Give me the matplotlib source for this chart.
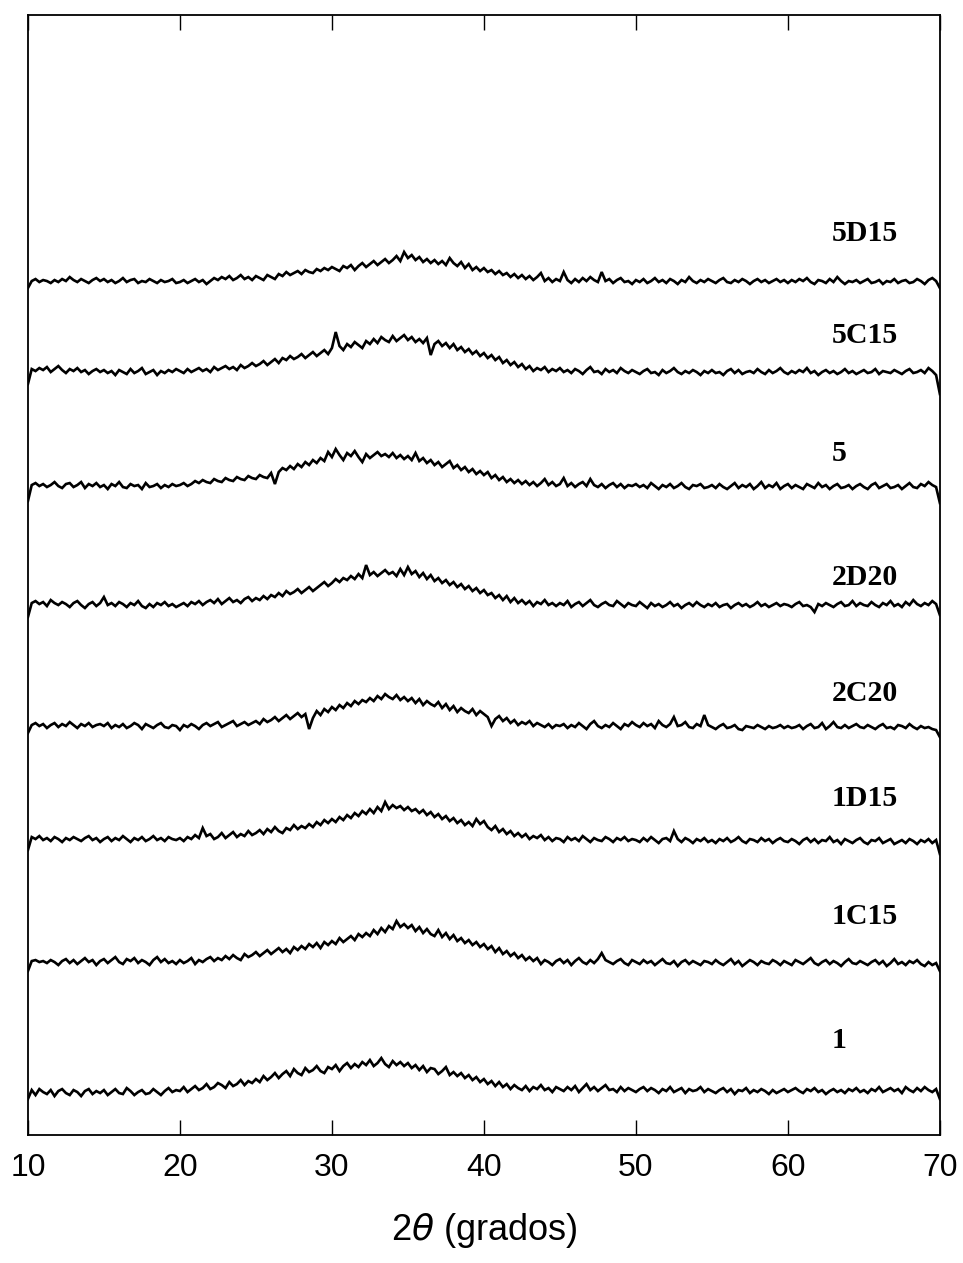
import numpy as np
import matplotlib

matplotlib.use("Agg")
import matplotlib.pyplot as plt

# intensity (a.u.) sampled every 0.25 deg from 10 to 70, one row = 5 deg
s_1 = [
    -6, 3, -2, 4, 1, -1, 3, -3, 2, 4, 0, -2, 3, 1, -3, 2, 4, -1, 2, 0,
    3, -2, 1, 4, 0, -1, 5, 2, -2, 1, 3, -1, 0, 4, 1, -2, 2, 5, 1, 3,
    2, 6, 1, 4, 7, 3, 5, 9, 4, 6, 10, 8, 5, 11, 7, 9, 13, 8, 12, 10,
    14, 11, 17, 13, 16, 20, 15, 19, 22, 17, 24, 20, 18, 25, 21, 23, 27, 22, 20, 26,
    24, 28, 22, 27, 30, 25, 29, 26, 31, 28, 33, 27, 30, 35, 29, 26, 32, 28, 31, 27,
    30, 25, 28, 23, 27, 21, 25, 24, 19, 22, 26, 18, 21, 17, 20, 15, 18, 13, 16, 11,
    14, 9, 12, 7, 11, 6, 9, 4, 8, 5, 3, 7, 2, 6, 4, 8, 3, 5, 1, 6,
    4, 2, 6, 3, 7, 1, 5, 9, 3, 6, 2, 5, 8, 3, 4, 1, 6, 2, 5, 3,
    1, 4, 6, 2, 5, 3, 0, 4, 2, 6, 1, 3, 5, 0, 4, 2, 3, 6, 1, 4,
    2, 0, 3, 5, 1, 4, -1, 3, 2, 5, 0, 3, 1, 4, 2, -1, 3, 0, 2, 4,
    1, 3, 5, 2, 0, 4, 2, 5, 1, 3, -1, 2, 4, 1, 3, 0, 4, 2, 5, 1,
    3, 0, 4, 2, 6, 1, 3, 5, 2, 4, 0, 6, 3, 1, 5, 2, 6, 3, 1, 4,
    -6,
]
s_1c15 = [
    -8, 2, 3, 1, 2, 0, 3, 1, -2, 2, 4, 0, 3, -1, 2, 5, 1, 3, -2, 2,
    4, 0, 3, 6, 1, -1, 4, 2, 5, 0, 3, 1, -2, 3, 6, 1, 4, 0, 2, -1,
    3, 0, 2, 5, -1, 3, 1, 4, 6, 2, 5, 3, 7, 4, 8, 5, 3, 9, 6, 8,
    11, 7, 10, 13, 9, 12, 15, 11, 14, 10, 16, 13, 17, 14, 19, 16, 20, 15, 21, 18,
    22, 19, 25, 21, 24, 27, 23, 29, 26, 30, 27, 33, 29, 35, 31, 37, 34, 42, 36, 39,
    35, 38, 32, 36, 30, 34, 29, 27, 33, 26, 30, 24, 28, 22, 25, 20, 23, 18, 21, 16,
    19, 14, 17, 11, 15, 9, 12, 7, 10, 5, 8, 3, 6, 2, 5, -1, 3, 1, -2, 2,
    4, 0, 3, -2, 2, 5, 1, -1, 3, 0, 4, 10, 3, 1, -1, 2, 4, 0, -2, 3,
    1, -1, 3, 0, 2, -2, 1, 4, 0, -1, 2, -3, 1, 3, -1, 2, 0, -2, 2, 1,
    -1, 3, 0, -2, 1, 4, -1, 2, -3, 0, 3, 1, -2, 2, 0, -1, 3, 1, -2, 2,
    0, -2, 3, 1, -1, 2, 5, 0, -2, 1, 3, -1, 2, 0, -3, 1, 4, 0, -1, 2,
    0, -2, 1, 3, -1, 2, -3, 0, 4, -1, 1, -2, 2, 0, 3, -1, -3, 1, -2, 0,
    -8,
]
s_1d15 = [
    -10, 3, 1, 4, 0, 2, -1, 3, 1, -2, 2, 0, 3, 1, -1, 2, 4, 0, 2, -2,
    1, 3, -1, 2, 0, 4, 1, -2, 2, 0, 3, -1, 1, 4, 0, 2, -1, 3, 1, 0,
    2, -1, 3, 1, 5, 2, 12, 4, 6, 1, 3, 7, 2, 5, 8, 3, 6, 4, 9, 5,
    7, 10, 6, 11, 8, 13, 9, 7, 12, 10, 15, 11, 14, 12, 16, 13, 18, 15, 20, 17,
    21, 18, 23, 20, 25, 22, 27, 24, 29, 26, 31, 27, 33, 29, 38, 31, 35, 32, 34, 30,
    33, 29, 31, 27, 30, 25, 28, 23, 26, 21, 24, 19, 22, 17, 20, 15, 18, 14, 21, 16,
    19, 13, 10, 14, 8, 11, 6, 9, 4, 7, 3, 6, 1, 4, 2, 5, 0, 3, -1, 2,
    1, -2, 3, 0, 2, -1, 4, 1, -2, 2, 0, -1, 3, 1, -2, 2, 0, 3, -1, 1,
    0, -2, 2, -1, 3, 0, -3, 1, 2, -1, 9, 1, -2, 2, 0, -3, 1, -1, 2, -2,
    0, -3, 1, -1, 2, -2, 0, 3, -1, -3, 1, 0, -2, 2, -1, 1, -3, 0, 2, -1,
    -2, 1, -1, -4, 0, 2, -2, 1, -3, 0, -1, 3, -2, 0, -4, 1, -1, -3, 0, 2,
    -2, -4, 0, -1, 2, -3, -1, 1, -4, -2, 0, -3, 1, -1, -4, 0, -2, 1, -3, 0,
    -14,
]
s_2c20 = [
    -6, 2, 4, 1, 3, -1, 2, 4, 0, 3, 1, 5, 2, -1, 3, 1, 4, 0, 2, 3,
    1, 4, -1, 2, 0, 3, -1, 1, 4, 2, -2, 3, 1, -1, 2, 4, 0, -1, 2, 1,
    -3, 2, 0, 3, 1, -2, 2, 4, 1, 3, 5, 0, 2, 4, 6, 1, 3, 5, 2, 4,
    6, 3, 8, 5, 7, 10, 6, 9, 12, 8, 11, 14, 10, 13, -2, 9, 16, 12, 18, 15,
    20, 17, 22, 19, 24, 21, 26, 23, 27, 25, 29, 26, 31, 28, 33, 30, 28, 32, 27, 30,
    26, 29, 24, 28, 22, 26, 23, 21, 25, 19, 23, 17, 21, 15, 19, 16, 14, 18, 12, 16,
    13, 10, 1, 8, 11, 6, 9, 4, 7, 2, 5, 3, 6, 1, 4, 2, 0, 3, -1, 2,
    1, 3, -1, 2, 0, 4, 1, -2, 3, 6, 1, -1, 2, 0, 4, 1, -2, 3, 1, 5,
    2, 0, 4, 1, 3, -1, 6, 2, 0, 3, 10, 1, 2, 5, 0, -1, 3, 1, 12, 2,
    0, -2, 1, 3, -1, 0, 2, -2, -3, 1, 0, -1, 2, 0, -2, 1, -1, 0, 2, -1,
    1, -1, 0, 2, -2, 1, 3, -1, 0, 4, -2, 1, 5, 0, -1, 2, -1, 1, 3, 0,
    -1, 2, 0, -2, 1, 3, -1, 0, -2, 2, 1, -1, 3, 0, -2, 1, -1, 0, -2, -3,
    -10,
]
s_2d20 = [
    -12, 2, 4, 1, 3, -1, 5, 2, 0, 3, 1, -2, 2, 4, 0, -3, 1, 3, -1, 2,
    8, 0, 2, -1, 3, 1, -2, 2, 0, 4, -1, -3, 1, -2, 2, 0, 3, -1, 1, -2,
    0, 2, -1, 3, 1, 4, 0, 3, 5, 2, 6, 1, 4, 7, 3, 5, 2, 6, 8, 4,
    7, 5, 9, 6, 10, 8, 12, 9, 14, 11, 13, 16, 12, 15, 18, 14, 17, 20, 23, 19,
    22, 26, 23, 27, 25, 29, 26, 31, 27, 40, 30, 33, 29, 32, 35, 31, 33, 29, 36, 30,
    38, 31, 34, 28, 32, 26, 30, 24, 27, 22, 25, 20, 23, 18, 21, 16, 19, 14, 17, 12,
    15, 10, 12, 7, 10, 5, 9, 3, 7, 2, 5, 1, 4, -1, 3, 1, 5, 0, 2, -1,
    2, 0, 4, -2, 1, 3, -1, 2, 5, 0, -2, 1, 3, 0, -1, 4, 1, -2, 2, 0,
    -1, 3, 0, -3, 2, -1, 1, -2, 0, 3, -1, 1, -3, 0, 2, -1, 3, 0, -2, 1,
    -1, 2, -2, 0, 1, -3, 0, 2, -1, 1, -2, 0, 3, -1, 1, -2, 0, 2, -1, 1,
    0, -2, 1, 3, -1, 0, -2, -7, 1, -1, 2, 0, -2, 1, 3, -1, 0, 4, -1, 2,
    0, -1, 3, 0, -2, 2, 0, 4, -1, 1, -2, 3, 0, 5, 1, -1, 2, 0, 4, 1,
    -10,
]
s_5 = [
    -14, 2, 4, 1, 3, 0, 2, 5, 1, -1, 3, 4, 0, 2, 5, -1, 3, 1, 4, 0,
    2, -2, 3, 1, 5, 0, -1, 3, 1, 2, -2, 4, 0, 1, 3, -1, 2, 0, 3, 1,
    2, 4, 1, 3, 6, 4, 7, 5, 4, 8, 6, 5, 9, 7, 6, 10, 8, 7, 11, 9,
    8, 12, 10, 9, 14, 3, 15, 19, 17, 21, 18, 23, 20, 25, 22, 27, 24, 29, 26, 35,
    30, 38, 32, 27, 34, 31, 36, 30, 25, 33, 29, 32, 35, 31, 33, 30, 34, 29, 32, 28,
    31, 27, 34, 26, 29, 24, 27, 22, 25, 20, 23, 26, 19, 22, 17, 20, 15, 18, 13, 16,
    12, 15, 9, 12, 7, 10, 5, 8, 4, 7, 3, 6, 2, 5, 1, 4, 8, 2, 5, 1,
    3, 9, 1, 4, 0, 3, 5, 1, 8, 2, 0, 3, -1, 2, 4, 0, 3, -1, 2, 1,
    3, 0, 2, -1, 4, 1, -2, 2, 0, 3, -1, 1, 4, 0, -2, 2, 1, 3, -1, 0,
    2, -1, 3, 0, -2, 1, 4, -1, 2, 0, 3, -2, 1, 5, -1, 2, 0, 4, -2, 1,
    3, -1, 2, 0, -2, 3, 1, -1, 4, 0, 2, -2, 1, 3, -1, 0, 2, -2, 1, 3,
    0, -2, 2, 4, -1, 1, 3, -1, 0, 2, -2, 1, 4, 0, -1, 3, 1, 5, 2, 0,
    -16,
]
s_5c15 = [
    -12, 3, 1, 4, 2, 5, 0, 3, 6, 2, -1, 3, 1, 4, 0, 2, -2, 1, 3, 0,
    2, -1, 1, -3, 2, 0, -2, 3, -1, 1, 4, -2, 0, 2, -3, 1, -1, 2, 0, 3,
    1, -1, 3, 0, 2, 4, 1, 3, 0, 5, 2, 4, 6, 3, 5, 2, 7, 4, 6, 9,
    6, 8, 11, 7, 10, 13, 9, 14, 12, 16, 13, 15, 18, 14, 17, 20, 16, 19, 22, 18,
    24, 40, 26, 22, 28, 25, 30, 27, 24, 31, 28, 33, 29, 35, 32, 30, 36, 31, 34, 37,
    32, 35, 30, 33, 29, 34, 17, 28, 31, 26, 29, 24, 28, 22, 25, 20, 23, 18, 21, 16,
    19, 14, 17, 12, 15, 9, 12, 7, 10, 5, 8, 3, 6, 1, 4, 2, 5, 0, 3, 1,
    4, 0, 2, -1, 3, 1, -2, 2, 5, 0, 1, -2, 3, 0, 2, -1, 4, 1, -1, 2,
    0, -2, 1, 3, -1, 0, -3, 2, -1, 1, 4, 0, -2, 1, -1, 2, 0, -3, 1, -1,
    2, -1, 0, -3, 1, 3, -1, 2, -2, 0, 1, -1, 3, 0, -2, 2, -1, 1, 4, 0,
    -2, 1, -1, 2, 0, 4, -1, 1, -3, 0, 2, -1, 1, -2, 0, 3, -1, 1, -2, 0,
    2, -1, 0, 3, -2, 1, 0, -1, 2, 0, -2, 1, 3, -1, 0, 2, -1, 4, 1, -3,
    -22,
]
s_5d15 = [
    -6, 1, 3, 0, 2, 1, -1, 2, 0, 3, 1, 5, 2, 0, 3, 1, -1, 2, 4, 1,
    3, 0, 2, -1, 1, 4, 0, 2, 3, -1, 1, 0, 3, 1, -1, 2, 0, 1, 3, -1,
    0, 2, -1, 1, 3, 0, 2, -2, 1, 4, 2, 5, 3, 6, 2, 4, 7, 3, 5, 2,
    6, 4, 2, 7, 5, 3, 8, 6, 10, 7, 9, 11, 8, 12, 10, 9, 13, 11, 14, 12,
    15, 13, 11, 16, 14, 17, 12, 16, 19, 15, 18, 21, 17, 20, 23, 19, 22, 26, 21, 30,
    24, 27, 22, 25, 20, 23, 19, 22, 18, 21, 17, 24, 19, 16, 20, 14, 18, 12, 15, 11,
    14, 10, 12, 8, 11, 7, 9, 5, 8, 4, 7, 3, 6, 2, 5, 9, 1, 4, 0, 3,
    1, 10, 2, -1, 3, 0, 4, 1, 5, 2, 0, 10, 1, 3, -1, 2, 4, 0, 1, -2,
    2, 0, 3, -1, 1, 4, 0, 2, -1, 3, 1, -2, 2, 0, 5, 1, -1, 2, 0, 3,
    1, -1, 2, 4, 0, -1, 2, 0, 3, 1, -2, 1, 3, 0, 2, -1, 1, 3, 0, 2,
    -1, 2, 0, 3, 1, 4, 0, -2, 2, 1, -1, 3, 0, 5, 1, -2, 1, 0, 2, -1,
    1, 3, -1, 0, 2, -2, 1, 0, 3, -1, 1, 2, -1, 0, 3, 1, -2, 2, 4, 1,
    -6,
]

samples = ["1", "1C15", "1D15", "2C20", "2D20", "5", "5C15", "5D15"]
series = [s_1, s_1c15, s_1d15, s_2c20, s_2d20, s_5, s_5c15, s_5d15]
offsets = [42, 172, 295, 408, 530, 648, 763, 853]
label_y = [95, 219, 337, 442, 558, 682, 800, 902]

fig = plt.figure(figsize=(9.63, 12.63), dpi=100)
ax = fig.add_axes([0.029, 0.1013, 0.947, 0.8868])

for name, vals, off, ly in zip(samples, series, offsets, label_y):
    y = np.array(vals) + off
    x = np.linspace(10, 70, len(y))
    ax.plot(x, y, color="black", linewidth=1.9, solid_joinstyle="miter")
    ax.text(62.9, ly, name, ha="left", va="center", fontsize=21.5,
            fontweight="bold", family="Liberation Serif")

ax.set_xlim(10, 70)
ax.set_ylim(0, 1120)
ax.set_xticks(range(10, 71, 10))
ax.set_yticks([])
ax.tick_params(axis="x", direction="in", length=11, width=1, top=True,
               pad=13, labelsize=23)
for lab in ax.get_xticklabels():
    lab.set_family("Liberation Sans")
for sp in ax.spines.values():
    sp.set_linewidth(1.3)

ax.set_xlabel(r"2$\theta$ (grados)", fontsize=26, family="Liberation Sans",
              labelpad=20)

fig.savefig("out.png", dpi=100)
